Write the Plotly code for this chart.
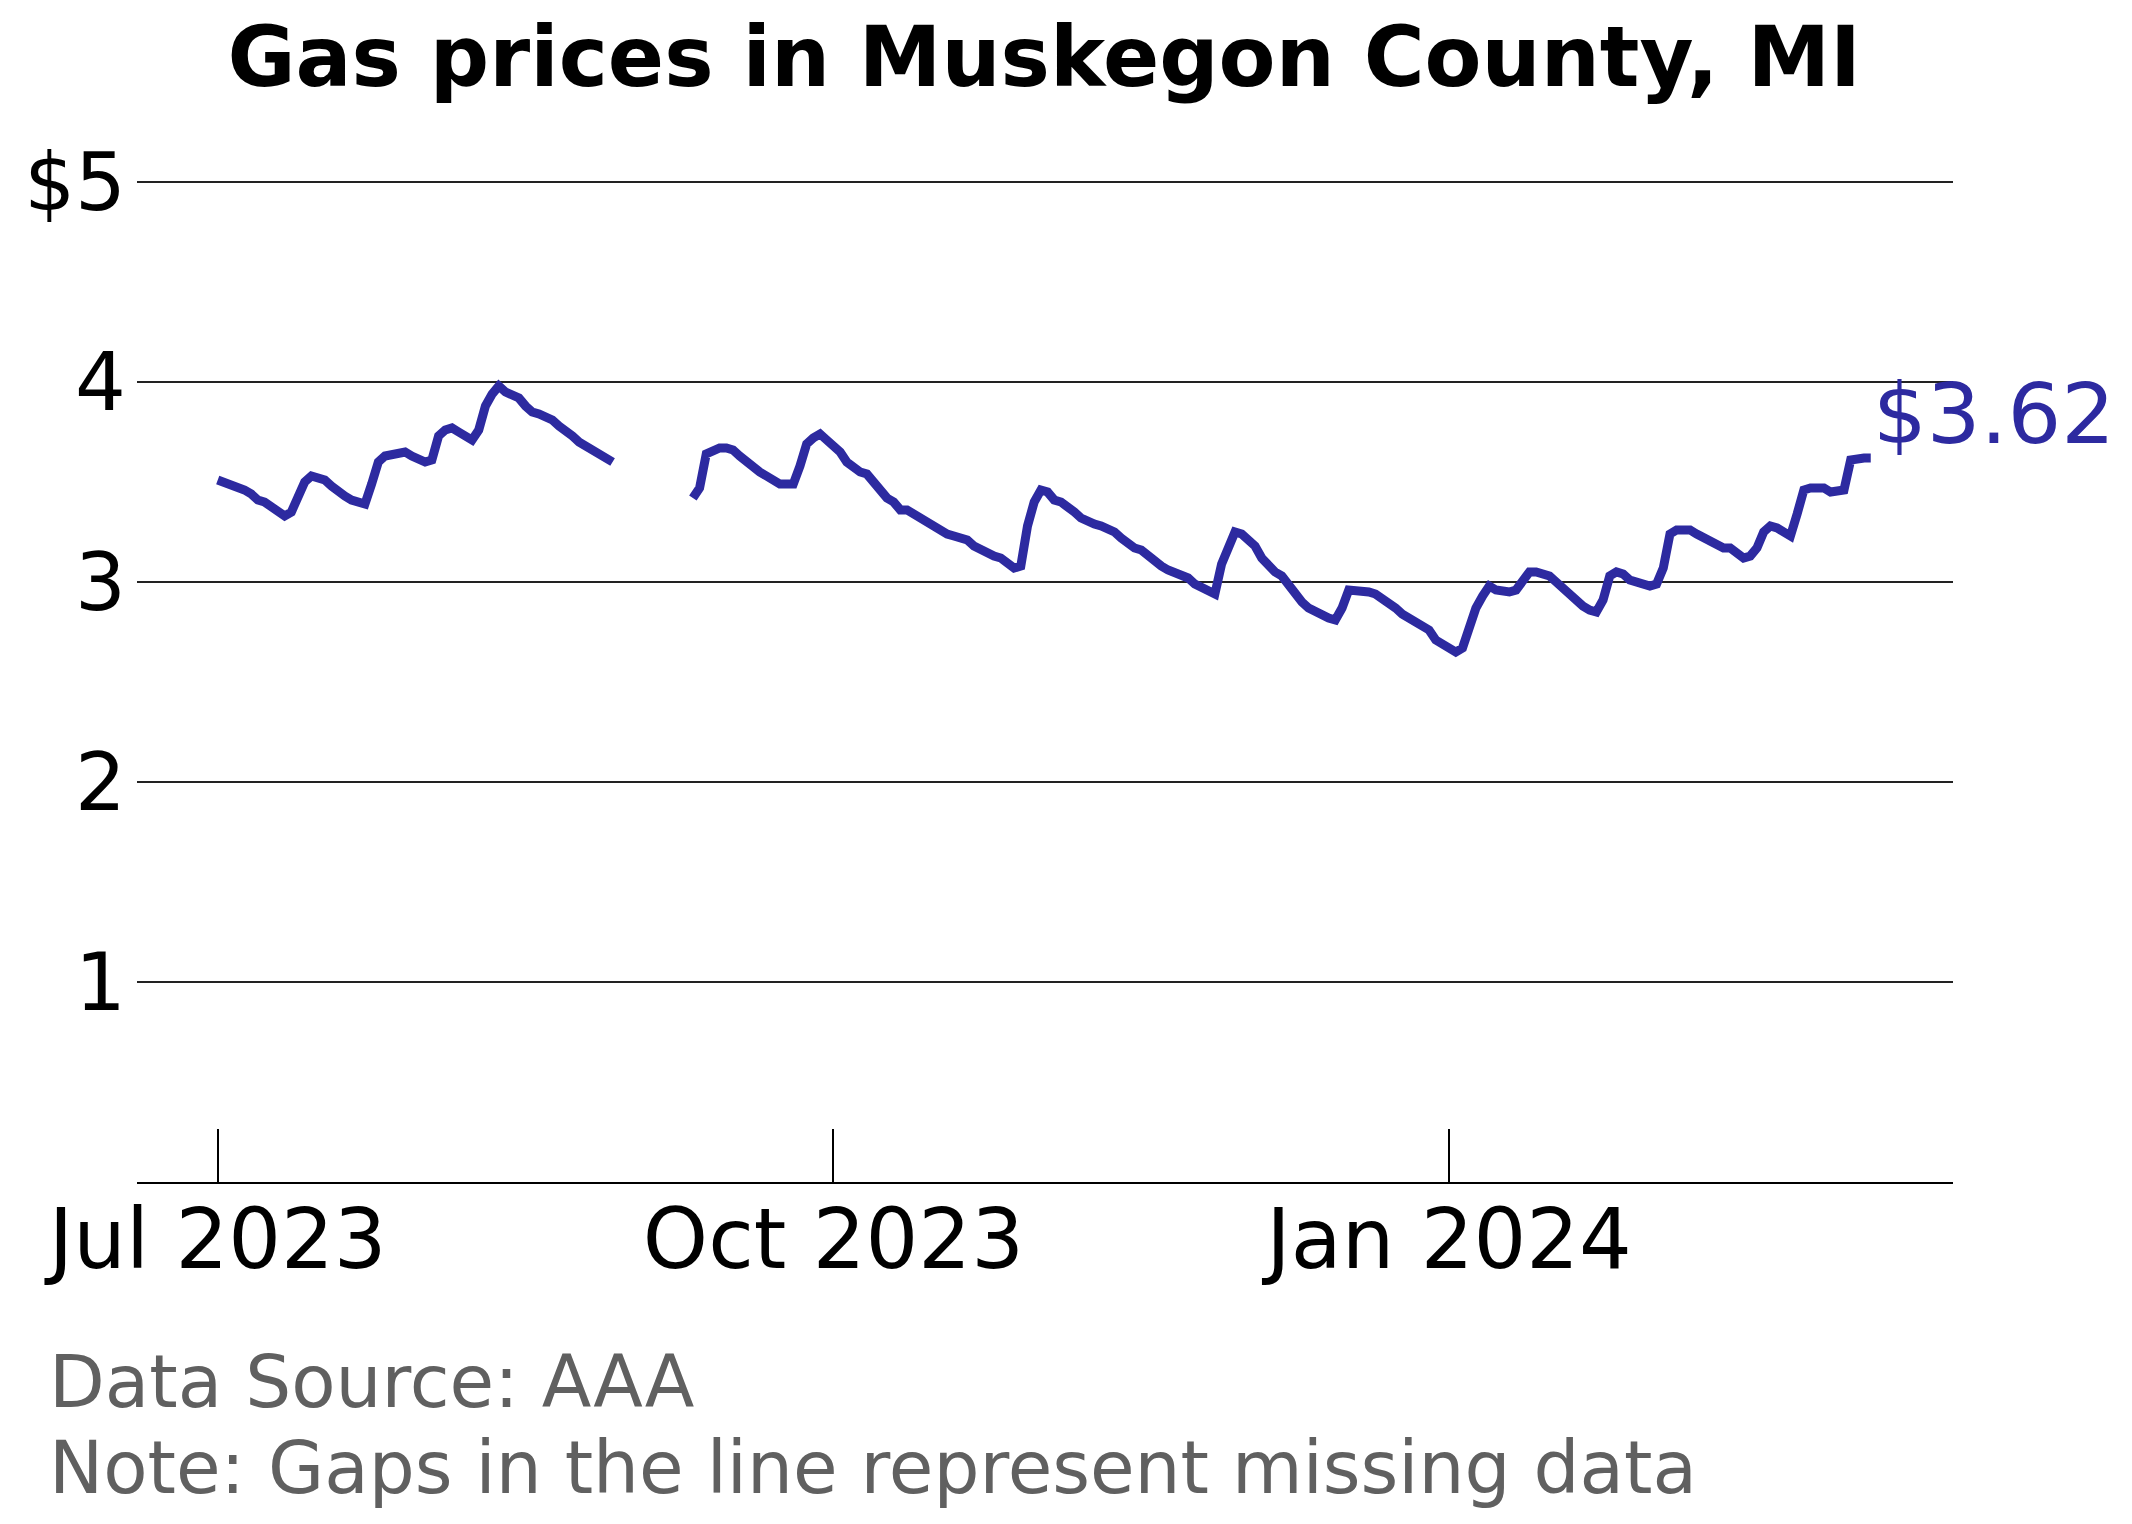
import pandas as pd
import plotly.graph_objects as go


# daily average price
summer_start = "2023-07-01"
summer_prices = [
    3.51, 3.50, 3.49, 3.47, 3.46, 3.44, 3.41, 3.40, 3.38, 3.36,
    3.33, 3.35, 3.44, 3.50, 3.53, 3.52, 3.51, 3.48, 3.45, 3.43,
    3.41, 3.40, 3.39, 3.49, 3.60, 3.63, 3.64, 3.65, 3.65, 3.63,
    3.62, 3.60, 3.61, 3.73, 3.76, 3.77, 3.75, 3.73, 3.71, 3.76,
    3.88, 3.94, 3.98, 3.95, 3.94, 3.92, 3.88, 3.85, 3.84, 3.83,
    3.81, 3.78, 3.76, 3.73, 3.70, 3.68, 3.66, 3.63, 3.61, 3.60,
]

fall_start = "2023-09-10"
fall_prices = [
    3.42, 3.47, 3.64, 3.66, 3.67, 3.67, 3.66, 3.63, 3.60, 3.57,
    3.55, 3.53, 3.51, 3.49, 3.49, 3.49, 3.58, 3.69, 3.72, 3.74,
    3.71, 3.68, 3.65, 3.60, 3.57, 3.55, 3.54, 3.50, 3.45, 3.42,
    3.40, 3.36, 3.36, 3.34, 3.32, 3.30, 3.27, 3.25, 3.24, 3.23,
    3.22, 3.21, 3.18, 3.16, 3.14, 3.13, 3.12, 3.09, 3.07, 3.08,
    3.28, 3.40, 3.46, 3.45, 3.41, 3.40, 3.38, 3.35, 3.32, 3.30,
    3.29, 3.28, 3.27, 3.25, 3.22, 3.19, 3.17, 3.16, 3.13, 3.10,
    3.08, 3.06, 3.05, 3.03, 3.02, 2.99, 2.97, 2.95, 2.94, 3.09,
    3.17, 3.25, 3.24, 3.21, 3.18, 3.12, 3.08, 3.05, 3.03, 2.98,
    2.94, 2.90, 2.87, 2.85, 2.83, 2.82, 2.81, 2.87, 2.96, 2.96,
    2.96, 2.95, 2.94, 2.92, 2.90, 2.87, 2.84, 2.82, 2.80, 2.78,
    2.76, 2.71, 2.69, 2.67, 2.65, 2.67, 2.79, 2.87, 2.93, 2.98,
    2.96, 2.95, 2.95, 2.96, 3.01, 3.05, 3.05, 3.04, 3.03, 3.00,
    2.97, 2.94, 2.90, 2.88, 2.86, 2.85, 2.91, 3.03, 3.05, 3.04,
    3.01, 3.00, 3.00, 2.98, 2.99, 3.07, 3.24, 3.26, 3.26, 3.26,
    3.24, 3.22, 3.20, 3.18, 3.17, 3.17, 3.15, 3.12, 3.13, 3.17,
    3.25, 3.28, 3.27, 3.25, 3.23, 3.34, 3.46, 3.47, 3.47, 3.47,
    3.45, 3.45, 3.46, 3.61, 3.62, 3.62, 3.62,
]

tick_dates = ["2023-07-01", "2023-10-01", "2024-01-01"]
tick_labels = ["Jul 2023", "Oct 2023", "Jan 2024"]
price_ticks = [1, 2, 3, 4, 5]
price_labels = ["1", "2", "3", "4", "$5"]

LINE_COLOR = "#2d2aa0"
NOTE_COLOR = "#606060"
FONT = "DejaVu Sans"

summer_dates = pd.date_range(summer_start, periods=len(summer_prices), freq="D")
fall_dates = pd.date_range(fall_start, periods=len(fall_prices), freq="D")

# None between the two pieces leaves the gap for the missing days
x = list(summer_dates) + [None] + list(fall_dates)
y = summer_prices + [None] + fall_prices

fig = go.Figure()
fig.add_trace(go.Scatter(x=x, y=y, mode="lines", connectgaps=False,
                         line=dict(color=LINE_COLOR, width=9),
                         hoverinfo="skip"))

last_label = "$%.2f" % fall_prices[-1]
fig.add_annotation(x=fall_dates[-1], y=fall_prices[-1], text=last_label,
                   showarrow=False, xanchor="left", yanchor="middle",
                   xshift=0, yshift=44,
                   font=dict(family=FONT, size=84.5, color=LINE_COLOR))

fig.add_annotation(xref="paper", yref="paper", x=-0.0495, y=-0.189,
                   text="Data Source: AAA", showarrow=False,
                   xanchor="left", yanchor="middle",
                   font=dict(family=FONT, size=72.5, color=NOTE_COLOR))
fig.add_annotation(xref="paper", yref="paper", x=-0.0495, y=-0.270,
                   text="Note: Gaps in the line represent missing data",
                   showarrow=False, xanchor="left", yanchor="middle",
                   font=dict(family=FONT, size=72.5, color=NOTE_COLOR))

# page body has an 8px margin, so the figure is 16px smaller than the window
fig.update_layout(
    width=2116, height=1508,
    margin=dict(l=129, r=171, t=114, b=334),
    paper_bgcolor="white", plot_bgcolor="white",
    showlegend=False,
    font=dict(family=FONT, color="black"),
    title=dict(text="<b>Gas prices in Muskegon County, MI</b>",
               x=0.4897, xanchor="center", y=1 - 49 / 1508, yanchor="middle",
               font=dict(family=FONT, size=83, color="black")),
)

fig.update_xaxes(
    range=["2023-06-18 22:30", "2024-03-16 07:00"],
    tickvals=tick_dates, ticktext=tick_labels,
    tickfont=dict(size=83),
    ticklabelstandoff=-16,
    showgrid=False, zeroline=False,
    showline=True, linecolor="black", linewidth=2.3,
    ticks="inside", ticklen=53, tickwidth=1.5, tickcolor="black",
)

fig.update_yaxes(
    range=[0, 5.3],
    tickvals=price_ticks, ticktext=price_labels,
    tickfont=dict(size=80),
    ticklabelstandoff=10,
    showgrid=True, gridcolor="#222222", gridwidth=1.5,
    zeroline=False, showline=False, ticks="",
)

fig.write_html("out.html")
